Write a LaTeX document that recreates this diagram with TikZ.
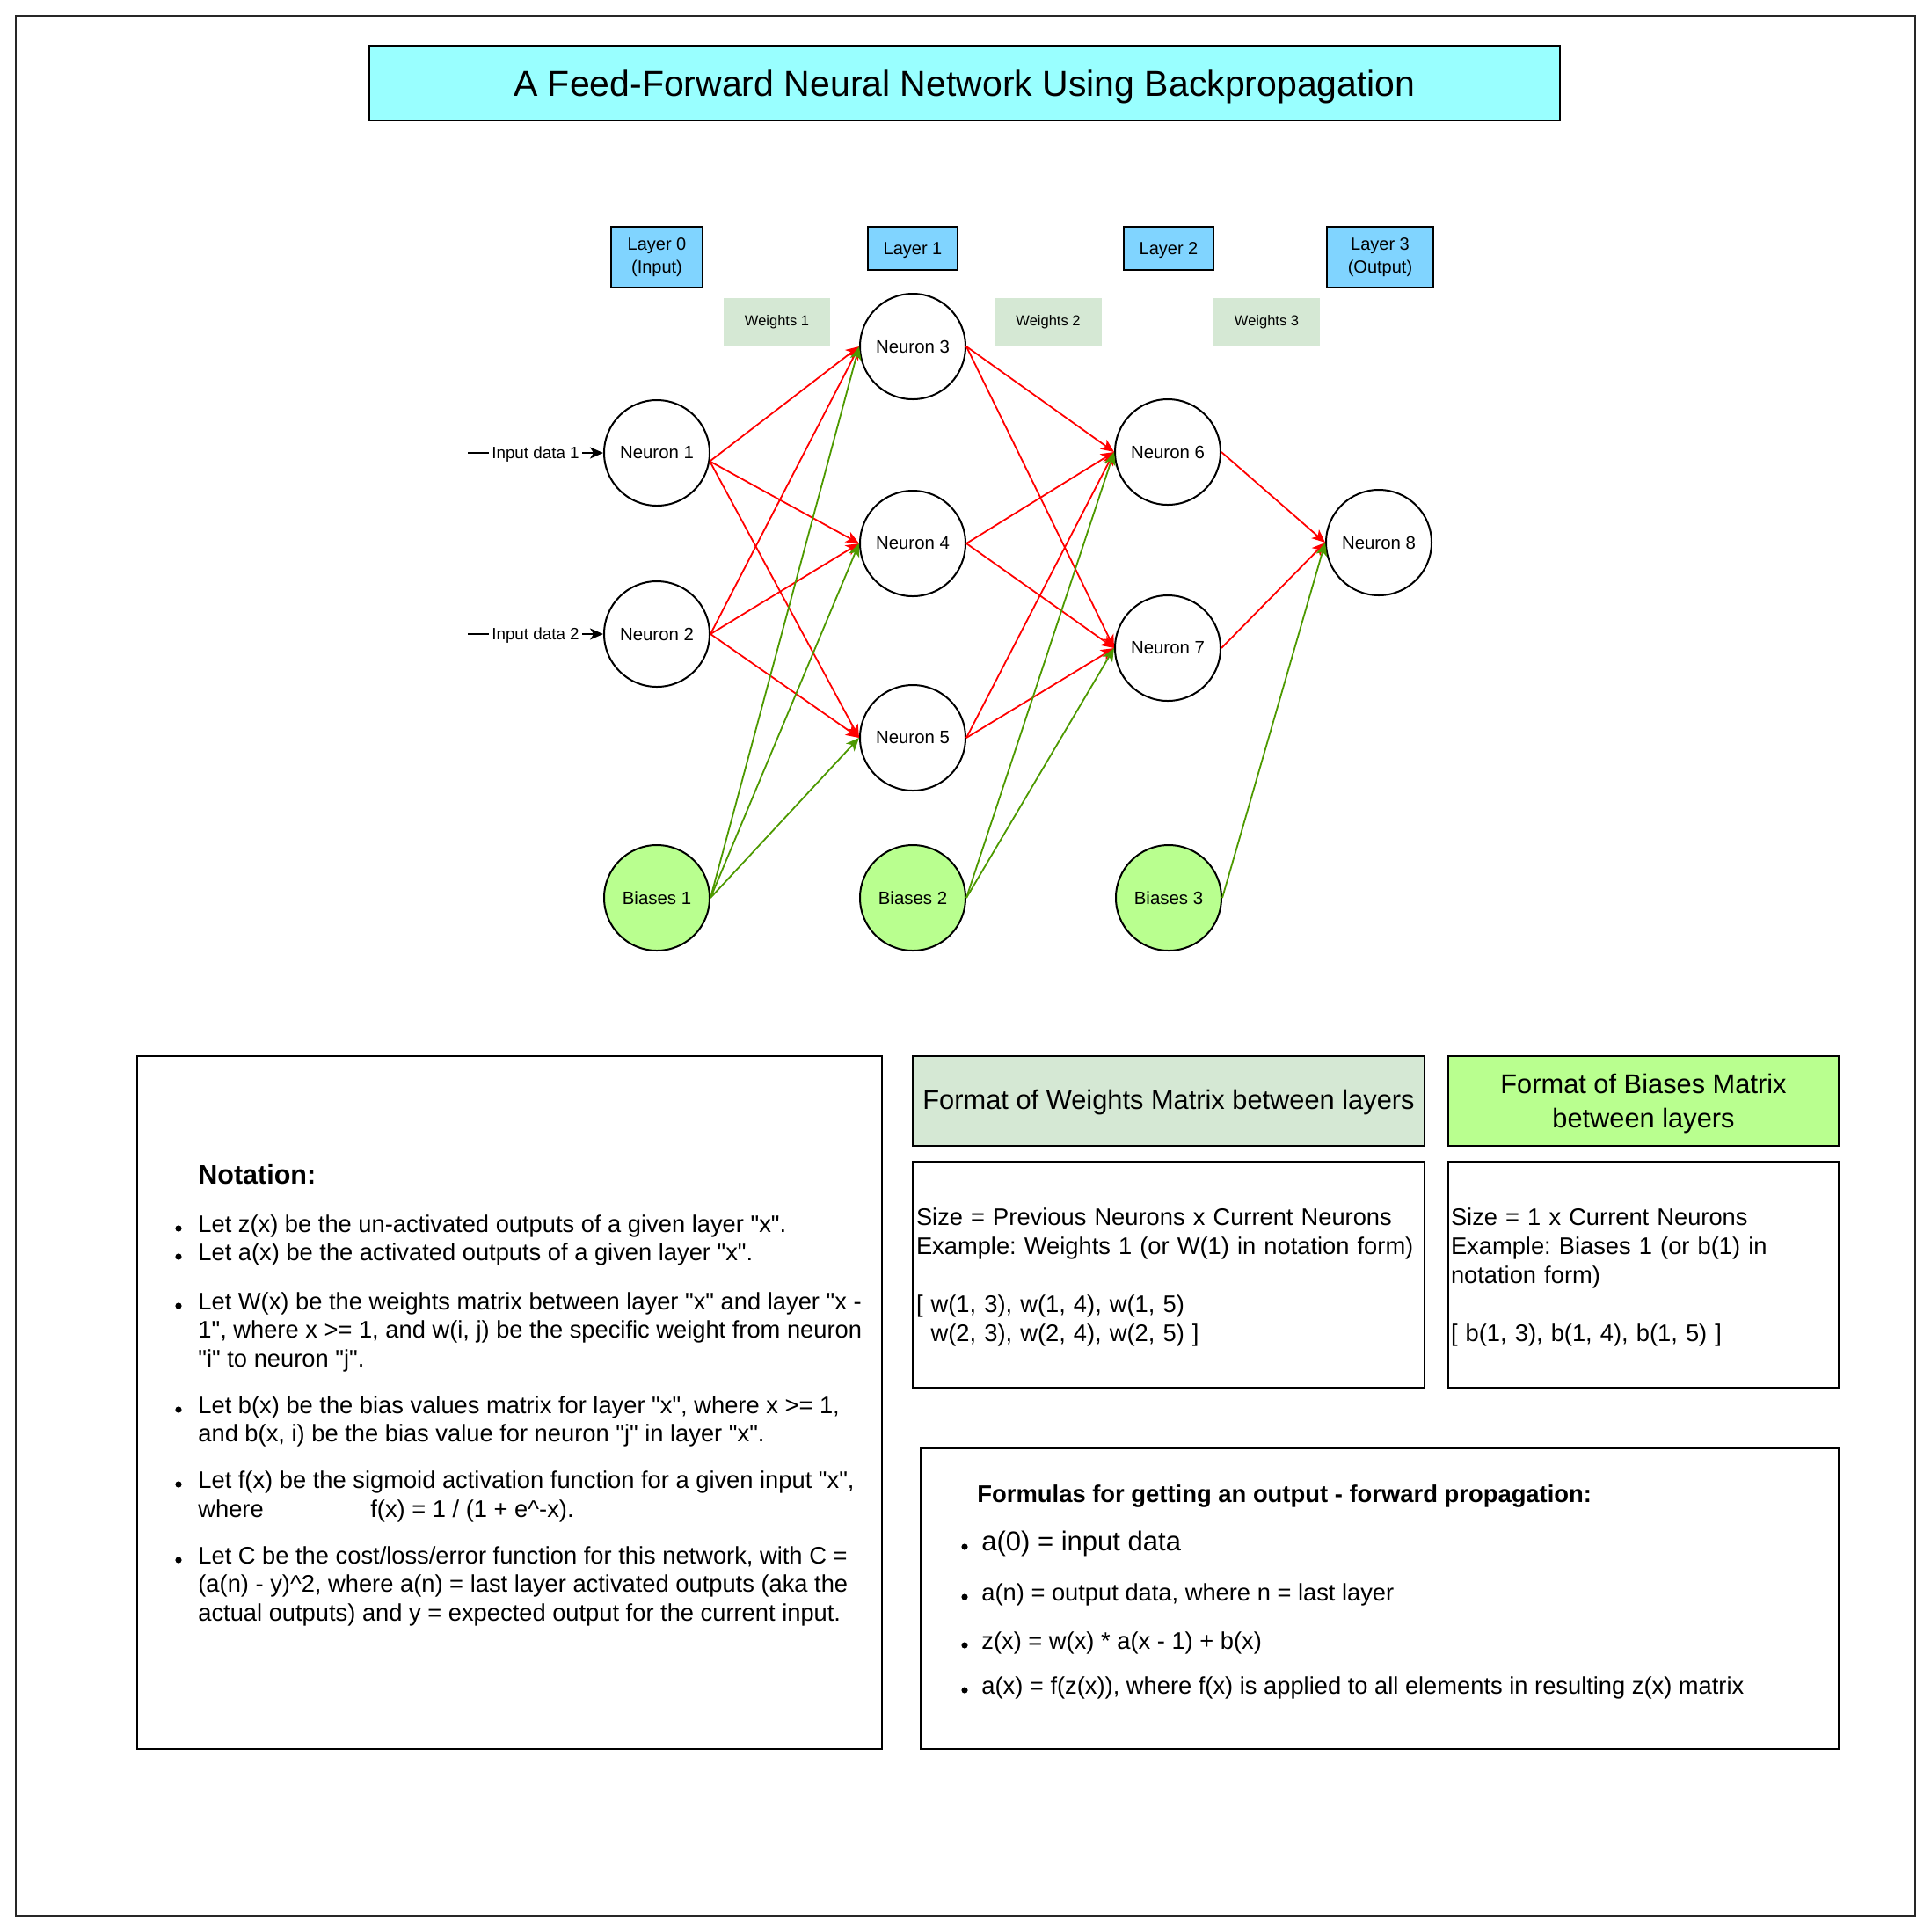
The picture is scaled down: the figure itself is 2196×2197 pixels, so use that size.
\documentclass[tikz,border=0pt]{standalone}
\usepackage{fontspec}
\setmainfont{Liberation Sans}
\usetikzlibrary{arrows.meta,calc}
\definecolor{titlecyan}{RGB}{153,255,255}
\definecolor{layerblue}{RGB}{128,212,255}
\definecolor{wgreen}{RGB}{213,232,212}
\definecolor{bgreen}{RGB}{185,255,143}
\definecolor{edgegreen}{RGB}{77,153,0}
\definecolor{edgered}{RGB}{255,0,0}
\newcommand{\fsz}[2]{\fontsize{#1}{#2}\selectfont}
\newcommand{\qq}{\textquotedbl}
\frenchspacing
\begin{document}
\frenchspacing
\begin{tikzpicture}[x=0.5pt,y=-0.5pt,
  every node/.style={inner sep=0pt},
  neuron/.style={circle, draw=black, line width=1pt, fill=white, minimum size=60pt, inner sep=0pt, font=\fsz{10.2pt}{12pt}},
  biasnode/.style={neuron, fill=bgreen},
  layerbox/.style={rectangle, draw=black, line width=1pt, fill=layerblue, minimum width=51pt, align=center, font=\fsz{10pt}{13.3pt}},
  wlabel/.style={rectangle, fill=wgreen, minimum width=60.5pt, minimum height=27pt, font=\fsz{8.25pt}{10pt}},
  redge/.style={draw=edgered, line width=0.9pt, -{Stealth[length=7.5pt,width=6.5pt,inset=2pt]}},
  gedge/.style={redge, draw=edgegreen},
  inedge/.style={draw=black, line width=0.9pt, -{Stealth[length=7.5pt,width=6.5pt,inset=2pt]}},
  inlabel/.style={fill=white, inner xsep=1.5pt, inner ysep=1pt, font=\fsz{9.4pt}{11pt}},
  panel/.style={rectangle, draw=black, line width=1pt},
  bodytxt/.style={anchor=mid west, font=\fsz{13.65pt}{16.5pt}},
  bodyhead/.style={anchor=mid west, font=\fsz{15.25pt}{18pt}\bfseries},
  bul/.style={fill=black},
]
\useasboundingbox (0,0) rectangle (2196,2197);
\draw[line width=1.2pt, black!85] (18,18) rectangle (2178,2179);

% title
\node[panel, fill=titlecyan, minimum width=677pt, minimum height=42.5pt, text height=19pt, text depth=4.3pt, font=\fsz{20.5pt}{24pt}] (title) at (1097,94.5) {A Feed-Forward Neural Network Using Backpropagation};

% layer boxes
\node[layerbox, minimum width=52pt, minimum height=34.5pt] (l0) at (747,292.5) {Layer 0\\(Input)};
\node[layerbox, minimum height=24.5pt, text height=9.5pt, text depth=2.2pt] (l1) at (1038,282.5) {Layer 1};
\node[layerbox, minimum height=24.5pt, text height=9.5pt, text depth=2.2pt] (l2) at (1329,282.5) {Layer 2};
\node[layerbox, minimum width=60.5pt, minimum height=34.5pt] (l3) at (1569.5,292.5) {Layer 3\\(Output)};

% weights labels
\node[wlabel] (w1) at (883.5,366) {Weights 1};
\node[wlabel] (w2) at (1192,366) {Weights 2};
\node[wlabel] (w3) at (1440.5,366) {Weights 3};

% neurons
\node[neuron] (n1) at (747,515) {Neuron 1};
\node[neuron] (n2) at (747,721) {Neuron 2};
\node[neuron] (n3) at (1038,394) {Neuron 3};
\node[neuron] (n4) at (1038,618) {Neuron 4};
\node[neuron] (n5) at (1038,839) {Neuron 5};
\node[neuron] (n6) at (1328,514) {Neuron 6};
\node[neuron] (n7) at (1328,737) {Neuron 7};
\node[neuron] (n8) at (1568,617) {Neuron 8};
\node[biasnode] (b1) at (747,1021) {Biases 1};
\node[biasnode] (b2) at (1038,1021) {Biases 2};
\node[biasnode] (b3) at (1329,1021) {Biases 3};

% inputs
\coordinate (in1) at (532,515);
\coordinate (in2) at (532,721);
\draw[inedge] (in1) -- node[inlabel, yshift=-1pt] (t1) {Input data 1} (n1.west);
\draw[inedge] (in2) -- node[inlabel, yshift=-1pt] (t2) {Input data 2} (n2.west);

% red weight edges
\foreach \t in {n3,n4,n5} {
  \draw[redge] (n1.-9) -- (\t.west);
  \draw[redge] (n2.east) -- (\t.west);
}
\foreach \s in {n3,n4,n5} {
  \draw[redge] (\s.east) -- (n6.west);
  \draw[redge] (\s.east) -- (n7.west);
}
\draw[redge] (n6.east) -- (n8.west);
\draw[redge] (n7.east) -- (n8.west);

% green bias edges
\draw[gedge] (b1.east) -- (n3.west);
\draw[gedge] (b1.east) -- (n4.west);
\draw[gedge] (b1.east) -- (n5.west);
\draw[gedge] (b2.east) -- (n6.west);
\draw[gedge] (b2.east) -- (n7.west);
\draw[gedge] (b3.east) -- (n8.west);

% notation panel
\node[panel, minimum width=423.5pt, minimum height=394pt] (nota) at (579.5,1595) {};
\node[bodyhead] (nh) at (225,1341) {Notation:};
\node[bodytxt] (na1) at (225,1396) {Let z(x) be the un-activated outputs of a given layer \qq x\qq.};
\node[bodytxt] (na2) at (225,1428) {Let a(x) be the activated outputs of a given layer \qq x\qq.};
\node[bodytxt] (na3) at (225,1484) {Let W(x) be the weights matrix between layer \qq x\qq{} and layer \qq x -};
\node[bodytxt] (na4) at (225,1516) {1\qq, where x >= 1, and w(i, j) be the specific weight from neuron};
\node[bodytxt] (na5) at (225,1549) {\qq i\qq{} to neuron \qq j\qq.};
\node[bodytxt] (na6) at (225,1602) {Let b(x) be the bias values matrix for layer \qq x\qq, where x >= 1,};
\node[bodytxt] (na7) at (225,1634) {and b(x, i) be the bias value for neuron \qq j\qq{} in layer \qq x\qq.};
\node[bodytxt] (na8) at (225,1687) {Let f(x) be the sigmoid activation function for a given input \qq x\qq,};
\node[bodytxt] (na9) at (225,1720) {where};
\node[bodytxt] (na10) at (421,1720) {f(x) = 1 / (1 + e\textasciicircum-x).};
\node[bodytxt] (na11) at (225,1773) {Let C be the cost/loss/error function for this network, with C =};
\node[bodytxt] (na12) at (225,1805) {(a(n) - y)\textasciicircum2, where a(n) = last layer activated outputs (aka the};
\node[bodytxt] (na13) at (225,1838) {actual outputs) and y = expected output for the current input.};
\foreach \yy in {1396,1428,1484,1602,1687,1773} {
  \fill[bul] (203,\yy+1) circle[radius=1.8pt];
}

% weights format
\node[panel, fill=wgreen, minimum width=291pt, minimum height=51pt, font=\fsz{15.4pt}{19pt}, text height=12.5pt, text depth=3.2pt] (wh) at (1329,1252) {Format of Weights Matrix between layers};
\node[panel, minimum width=291pt, minimum height=128.5pt,
  label={[text width=287pt, align=left, font=\fsz{13.65pt}{16.5pt}, yshift=-1.5pt]center:Size = Previous Neurons x Current Neurons\\Example: Weights 1 (or W(1) in notation form)\\[16.5pt][ w(1, 3), w(1, 4), w(1, 5)\\\hphantom{[ }w(2, 3), w(2, 4), w(2, 5) ]}] (wc) at (1329,1449.5) {};

% biases format
\node[panel, fill=bgreen, minimum width=222pt, minimum height=51pt,
  label={[align=center, font=\fsz{15.4pt}{19.5pt}, yshift=-1.5pt]center:Format of Biases Matrix\\between layers}] (bh) at (1869,1252) {};
\node[panel, minimum width=222pt, minimum height=128.5pt,
  label={[text width=219pt, align=left, font=\fsz{13.65pt}{16.5pt}, yshift=-1.5pt]center:Size = 1 x Current Neurons\\Example: Biases 1 (or b(1) in\\notation form)\\[16.5pt][ b(1, 3), b(1, 4), b(1, 5) ]}] (bc) at (1869,1449.5) {};

% formulas panel
\node[panel, minimum width=522pt, minimum height=171pt] (form) at (1569,1818) {};
\node[anchor=mid west, font=\fsz{13.7pt}{16.5pt}\bfseries] (fh) at (1111,1703) {Formulas for getting an output - forward propagation:};
\node[anchor=mid west, font=\fsz{15.5pt}{18pt}] (f1) at (1116,1758) {a(0) = input data};
\node[bodytxt] (f2) at (1116,1815) {a(n) = output data, where n = last layer};
\node[bodytxt] (f3) at (1116,1870) {z(x) = w(x) * a(x - 1) + b(x)};
\node[bodytxt] (f4) at (1116,1921) {a(x) = f(z(x)), where f(x) is applied to all elements in resulting z(x) matrix};
\foreach \yy in {1758,1815,1870,1921} {
  \fill[bul] (1097,\yy+1) circle[radius=1.8pt];
}
\end{tikzpicture}
\end{document}
